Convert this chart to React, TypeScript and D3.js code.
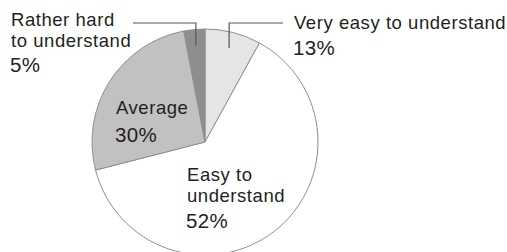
import React from "react";
import * as d3 from "d3";

const categories = ["Very easy to understand", "Easy to understand", "Average", "Rather hard to understand"];
// Slice shares as drawn in the picture (angles), and the printed labels
const drawnShares = [8, 63, 26, 3];
const percentLabels = ["13%", "52%", "30%", "5%"];
const labelLines = [["Very easy to understand"], ["Easy to", "understand"], ["Average"], ["Rather hard", "to understand"]];
const fills = ["#e5e5e6", "#ffffff", "#c1c1c1", "#8e8e8f"];

const W = 507;
const H = 252;
const cx = 205;
const cy = 142;
const R = 113;
const FONT = "'Liberation Sans', Arial, Helvetica, sans-serif";

export default function App() {
  const pie = d3.pie<number>().sort(null).value((d) => d);
  const arcs = pie(drawnShares);
  const arcGen = d3.arc<d3.PieArcDatum<number>>().innerRadius(0).outerRadius(R);

  const leaderR = 97;
  const leaderPoint = (i: number) => {
    const a = (arcs[i].startAngle + arcs[i].endAngle) / 2;
    return [cx + leaderR * Math.sin(a), cy - leaderR * Math.cos(a)];
  };
  const pVE = leaderPoint(0);
  const pRH = leaderPoint(3);
  const leaderY = 23;

  const textStyle: React.CSSProperties = { fontFamily: FONT, fontSize: 18.5, letterSpacing: 0.55, fill: "#231f20" };
  const pctStyle: React.CSSProperties = { fontFamily: FONT, fontSize: 20.5, letterSpacing: 0.4, fill: "#231f20" };

  return (
    <svg width={W} height={H} style={{ position: "absolute", left: 0, top: 0, background: "#fff" }}>
      <g transform={`translate(${cx},${cy})`}>
        {arcs.map((a, i) => (
          <path key={categories[i]} d={arcGen(a) || ""} fill={fills[i]} stroke="#8f8f8f" strokeWidth={1} />
        ))}
      </g>
      {/* leader lines */}
      <polyline points={`${pVE[0]},${pVE[1]} ${pVE[0]},${leaderY} 283,${leaderY}`} fill="none" stroke="#555" strokeWidth={1.2} />
      <polyline points={`${pRH[0]},${pRH[1]} ${pRH[0]},${leaderY} 133,${leaderY}`} fill="none" stroke="#555" strokeWidth={1.2} />

      {/* Very easy */}
      <text style={textStyle} x={294} y={29}>{labelLines[0][0]}</text>
      <text style={pctStyle} x={293} y={55}>{percentLabels[0]}</text>

      {/* Rather hard */}
      <text style={textStyle} x={11} y={26}>{labelLines[3][0]}</text>
      <text style={textStyle} x={11} y={47}>{labelLines[3][1]}</text>
      <text style={pctStyle} x={10} y={72}>{percentLabels[3]}</text>

      {/* Average */}
      <text style={textStyle} x={116} y={114}>{labelLines[2][0]}</text>
      <text style={pctStyle} x={115} y={142}>{percentLabels[2]}</text>

      {/* Easy */}
      <text style={textStyle} x={187} y={181}>{labelLines[1][0]}</text>
      <text style={textStyle} x={187} y={202}>{labelLines[1][1]}</text>
      <text style={pctStyle} x={186} y={228}>{percentLabels[1]}</text>
    </svg>
  );
}
